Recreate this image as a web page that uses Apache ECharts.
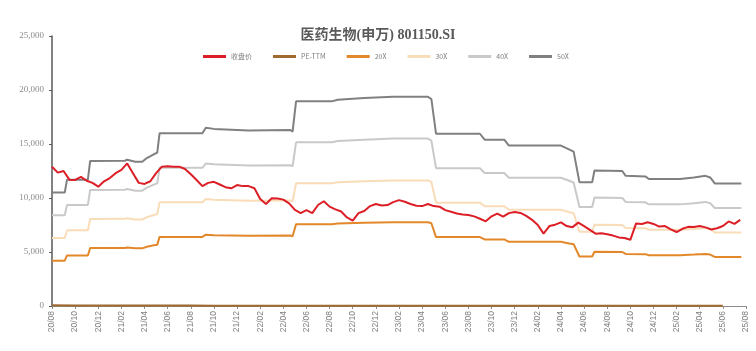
<!DOCTYPE html>
<html>
<head>
<meta charset="utf-8">
<script src="https://cdn.jsdelivr.net/npm/echarts@6/dist/echarts.min.js"></script>
<style>
html,body{margin:0;padding:0;background:#fff;}
#chart{width:756px;height:351px;}
</style>
</head>
<body>
<div id="chart"></div>
<script>
// X tick labels (every 2 months from 2020-08 to 2025-08); x value = months since 2020-08
const xTickLabels = ['20/08','20/10','20/12','21/02','21/04','21/06','21/08','21/10','21/12',
  '22/02','22/04','22/06','22/08','22/10','22/12','23/02','23/04','23/06','23/08','23/10','23/12',
  '24/02','24/04','24/06','24/08','24/10','24/12','25/02','25/04','25/06','25/08'];

// 收盘价, sampled every half month starting 2020-08
const closeStep = 0.5;
const closeValues = [12900,12350,12500,11700,11670,11950,11600,11400,11050,11550,
  11850,12300,12600,13200,12300,11400,11300,11550,12300,12900,
  12950,12900,12900,12690,12200,11670,11100,11400,11500,11250,
  11000,10900,11200,11100,11100,10900,9900,9450,9980,9950,
  9850,9500,8900,8600,8870,8600,9350,9700,9200,8950,
  8750,8200,7900,8600,8800,9250,9450,9300,9350,9620,
  9800,9650,9450,9280,9250,9450,9250,9200,8880,8720,
  8570,8470,8430,8300,8080,7840,8300,8560,8270,8600,
  8700,8620,8350,7980,7500,6700,7400,7530,7750,7400,
  7300,7720,7400,7050,6700,6730,6650,6520,6350,6300,
  6130,7650,7600,7750,7600,7350,7400,7100,6850,7150,
  7330,7320,7410,7280,7080,7200,7410,7830,7600,7980];

// PE-TTM, every 2 months
const peStep = 2;
const peValues = [61,50,43,47,42,40,35,33,34,30,30,23,24,21,25,25,24,29,27,26,29,25,26,31,27,25,32,29,31,33];

// PE band lines: change points (months since 2020-08)
const bandMonths = [0,1.1,1.3,3.1,3.3,6.3,6.5,7.2,7.8,8.2,8.8,9.1,9.3,13.0,13.3,14.0,17.0,20.6,20.8,21.1,
  24.2,24.7,27.0,29.5,32.5,32.8,33.2,37.0,37.4,39.1,39.5,44.0,44.6,45.1,45.6,46.7,46.9,49.3,49.6,51.3,
  51.6,54.3,55.5,56.5,56.9,57.3,59.6];
const band50 = [10500,10500,11700,11700,13430,13450,13550,13350,13350,13700,14050,14200,16000,16000,16500,16400,16250,16300,16150,18950,
  18950,19100,19250,19380,19380,19150,15950,15950,15400,15400,14850,14850,14550,14300,11450,11450,12550,12500,12050,12000,
  11760,11760,11900,12050,11900,11350,11350];
const band40 = [8400,8400,9360,9360,10740,10760,10840,10680,10680,10960,11240,11360,12800,12800,13200,13120,13000,13040,12920,15160,
  15160,15280,15400,15500,15500,15320,12760,12760,12320,12320,11880,11880,11640,11440,9160,9160,10040,10000,9640,9600,
  9410,9410,9520,9640,9520,9080,9080];
const band30 = [6300,6300,7020,7020,8060,8070,8130,8010,8010,8220,8430,8520,9600,9600,9900,9840,9750,9780,9690,11370,
  11370,11460,11550,11630,11630,11490,9570,9570,9240,9240,8910,8910,8730,8580,6870,6870,7530,7500,7230,7200,
  7060,7060,7140,7230,7140,6810,6810];
const band20 = [4200,4200,4680,4680,5370,5380,5420,5340,5340,5480,5620,5680,6400,6400,6600,6560,6500,6520,6460,7580,
  7580,7640,7700,7750,7750,7660,6380,6380,6160,6160,5940,5940,5820,5720,4580,4580,5020,5000,4820,4800,
  4700,4700,4760,4820,4760,4540,4540];

const seriesNames = ['收盘价','PE-TTM','20X','30X','40X','50X'];
const seriesColors = ['#dc1f26','#a0692f','#e3882a','#f9dcb8','#c9c9c9','#808080'];

const pair = (xs, ys) => ys.map((v, i) => [xs[i], v]);
const stepPairs = (step, ys) => ys.map((v, i) => [i * step, v]);

const chart = echarts.init(document.getElementById('chart'), null, {renderer: 'canvas'});
const mkLine = (idx, data, width, z) => ({
  name: seriesNames[idx], type: 'line', data: data, showSymbol: false, symbol: 'none',
  lineStyle: {color: seriesColors[idx], width: width}, itemStyle: {color: seriesColors[idx]},
  z: z, silent: true
});
chart.setOption({
  animation: false,
  backgroundColor: '#ffffff',
  title: {
    text: '医药生物(申万) 801150.SI', left: 'center', top: 23,
    textStyle: {fontSize: 14, fontWeight: 'bold', color: '#595959',
      fontFamily: "'Liberation Serif','Noto Sans CJK SC',serif"}
  },
  legend: {
    left: 198, top: 48, icon: 'rect', itemWidth: 23, itemHeight: 3, itemGap: 21,
    data: seriesNames,
    textStyle: {fontSize: 7, color: '#7f7f7f', fontFamily: "'Noto Sans CJK SC',sans-serif"}
  },
  grid: {left: 52, right: 10, top: 36, bottom: 45, containLabel: false},
  xAxis: {
    type: 'value', min: 0, max: 60, interval: 2,
    axisLine: {show: true, lineStyle: {color: '#8c8c8c', width: 1}},
    axisTick: {show: true, length: 3, lineStyle: {color: '#8c8c8c'}},
    splitLine: {show: false},
    axisLabel: {
      rotate: 90, fontSize: 8.5, color: '#7f7f7f', margin: 5,
      fontFamily: "'Liberation Sans',Arial,sans-serif",
      formatter: v => xTickLabels[Math.round(v / 2)] || ''
    }
  },
  yAxis: {
    type: 'value', min: 0, max: 25000, interval: 5000,
    axisLine: {show: true, lineStyle: {color: '#595959', width: 1.5}},
    axisTick: {show: true, length: 3, lineStyle: {color: '#595959'}},
    splitLine: {show: false},
    axisLabel: {
      fontSize: 9, color: '#8c8c8c', margin: 8,
      fontFamily: "'Liberation Serif',serif",
      formatter: v => v.toString().replace(/\B(?=(\d{3})+(?!\d))/g, ',')
    }
  },
  series: [
    mkLine(0, stepPairs(closeStep, closeValues), 2, 10),
    mkLine(1, stepPairs(peStep, peValues), 2, 3),
    mkLine(2, pair(bandMonths, band20), 2, 4),
    mkLine(3, pair(bandMonths, band30), 2, 4),
    mkLine(4, pair(bandMonths, band40), 2, 4),
    mkLine(5, pair(bandMonths, band50), 2, 4)
  ]
});
</script>
</body>
</html>
